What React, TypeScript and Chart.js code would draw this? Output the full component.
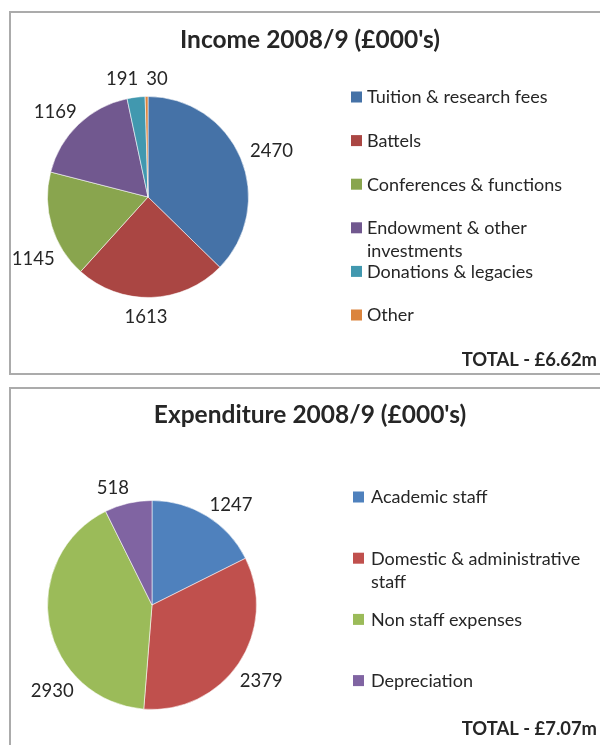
import React, { useEffect, useRef } from "react";
import { Chart, registerables } from "chart.js";

Chart.register(...registerables);

// ---------- data ----------
const incomeTitle = "Income 2008/9 (£000's)";
const incomeCategories = [
  "Tuition & research fees",
  "Battels",
  "Conferences & functions",
  "Endowment & other investments",
  "Donations & legacies",
  "Other",
];
const incomeValues = [2470, 1613, 1145, 1169, 191, 30];
const incomeColors = ["#4572A7", "#AA4643", "#89A54E", "#71588F", "#4198AF", "#DB843D"];
const incomeTotal = "TOTAL - £6.62m";

const expenditureTitle = "Expenditure 2008/9 (£000's)";
const expenditureCategories = [
  "Academic staff",
  "Domestic & administrative staff",
  "Non staff expenses",
  "Depreciation",
];
const expenditureValues = [1247, 2379, 2930, 518];
const expenditureColors = ["#4F81BD", "#C0504D", "#9BBB59", "#8064A2"];
const expenditureTotal = "TOTAL - £7.07m";

// where along each slice (0..1) its value label is anchored (Excel "best fit" look)
const incomeLabelAnchor = [0.5, 0.53, 0.27, 0.5, 0.5, 0.5];
const expenditureLabelAnchor = [0.55, 0.53, 0.28, 0.35];

const FONT = "Lato, 'Open Sans', sans-serif";
const TEXT = "#262626";

const decorPlugin = {
  id: "excelDecor",
  afterDraw(chart: any, _args: any, opts: any) {
    const ctx = chart.ctx as CanvasRenderingContext2D;
    ctx.save();
    ctx.fillStyle = TEXT;

    // title
    ctx.font = `bold ${opts.titleSize}px ${FONT}`;
    ctx.textAlign = "center";
    ctx.textBaseline = "alphabetic";
    ctx.fillText(opts.title, opts.titleX, opts.titleBaseline);

    // total
    ctx.font = `bold ${opts.totalSize}px ${FONT}`;
    ctx.textAlign = "right";
    ctx.fillText(opts.total, opts.totalRight, opts.totalBaseline);

    // legend
    const labels: string[] = chart.data.labels;
    const colors: string[] = chart.data.datasets[0].backgroundColor;
    ctx.font = `${opts.legendSize}px ${FONT}`;
    ctx.textAlign = "left";
    const capH = opts.legendSize * 0.72;
    labels.forEach((lab, i) => {
      const cy = opts.legendY0 + i * opts.legendStep;
      ctx.fillStyle = colors[i];
      ctx.fillRect(opts.legendX, cy - opts.box / 2, opts.box, opts.box);
      ctx.fillStyle = TEXT;
      const words = lab.split(" ");
      const lines: string[] = [];
      let cur = "";
      words.forEach((w) => {
        const t = cur ? cur + " " + w : w;
        if (ctx.measureText(t).width > opts.legendMaxWidth && cur) {
          lines.push(cur);
          cur = w;
        } else cur = t;
      });
      if (cur) lines.push(cur);
      lines.forEach((ln, k) => {
        ctx.fillText(ln, opts.legendX + opts.box + opts.legendTextGap, cy + capH / 2 + k * opts.lineStep);
      });
    });

    // data labels
    const meta = chart.getDatasetMeta(0);
    const values: number[] = chart.data.datasets[0].data;
    ctx.font = `${opts.labelSize}px ${FONT}`;
    ctx.textAlign = "center";
    const h = opts.labelSize * 0.72;
    const boxes = meta.data.map((arc: any, i: number) => {
      const p = arc.getProps(["x", "y", "startAngle", "endAngle", "outerRadius"], true);
      const a = p.startAngle + (p.endAngle - p.startAngle) * opts.anchors[i];
      const dx = Math.cos(a);
      const dy = Math.sin(a);
      const text = String(values[i]);
      const w = ctx.measureText(text).width;
      return {
        text,
        w,
        cx: p.x + (p.outerRadius + opts.labelGap) * dx + (dx * w) / 2,
        cy: p.y + (p.outerRadius + opts.labelGap) * dy + (dy * h) / 2,
      };
    });
    for (let it = 0; it < 20; it++) {
      for (let i = 0; i < boxes.length; i++) {
        for (let j = i + 1; j < boxes.length; j++) {
          const A = boxes[i];
          const B = boxes[j];
          if (Math.abs(A.cy - B.cy) > h + 4) continue;
          const need = (A.w + B.w) / 2 + 8;
          const d = B.cx - A.cx;
          if (Math.abs(d) < need) {
            const push = (need - Math.abs(d)) / 2;
            const s = d >= 0 ? 1 : -1;
            A.cx -= s * push;
            B.cx += s * push;
          }
        }
      }
    }
    ctx.fillStyle = TEXT;
    boxes.forEach((b: any) => ctx.fillText(b.text, b.cx, b.cy + h / 2));
    ctx.restore();
  },
};

function makePie(canvas: HTMLCanvasElement, labels: string[], values: number[], colors: string[], padding: any, decor: any) {
  return new Chart(canvas, {
    type: "pie",
    data: {
      labels,
      datasets: [
        {
          data: values,
          backgroundColor: colors,
          borderColor: "rgba(255,255,255,0.55)",
          borderWidth: 1,
        },
      ],
    },
    options: {
      responsive: false,
      animation: false,
      devicePixelRatio: 1,
      layout: { padding },
      plugins: {
        legend: { display: false },
        tooltip: { enabled: false },
        title: { display: false },
        excelDecor: decor,
      } as any,
    },
    plugins: [decorPlugin],
  });
}

export default function App() {
  const ref1 = useRef<HTMLCanvasElement>(null);
  const ref2 = useRef<HTMLCanvasElement>(null);

  useEffect(() => {
    const c1 = makePie(
      ref1.current!,
      incomeCategories,
      incomeValues,
      incomeColors,
      { left: 47, top: 96, right: 351, bottom: 82 },
      {
        title: incomeTitle,
        titleSize: 24.5,
        titleX: 310,
        titleBaseline: 48,
        total: incomeTotal,
        totalSize: 18.4,
        totalRight: 597,
        totalBaseline: 366,
        legendSize: 18,
        legendX: 351,
        legendY0: 97,
        legendStep: 43.6,
        legendMaxWidth: 222,
        legendTextGap: 5,
        lineStep: 23,
        box: 11,
        labelSize: 18.5,
        labelGap: 12,
        anchors: incomeLabelAnchor,
      }
    );
    const c2 = makePie(
      ref2.current!,
      expenditureCategories,
      expenditureValues,
      expenditureColors,
      { left: 47, top: 115, right: 343, bottom: 35 },
      {
        title: expenditureTitle,
        titleSize: 24.5,
        titleX: 310,
        titleBaseline: 38,
        total: expenditureTotal,
        totalSize: 18.4,
        totalRight: 597,
        totalBaseline: 350,
        legendSize: 18,
        legendX: 353,
        legendY0: 112,
        legendStep: 61.2,
        legendMaxWidth: 222,
        legendTextGap: 7,
        lineStep: 23,
        box: 11,
        labelSize: 18.5,
        labelGap: 12,
        anchors: expenditureLabelAnchor,
      }
    );
    return () => {
      c1.destroy();
      c2.destroy();
    };
  }, []);

  const border = "2px solid #ababab";
  return (
    <div style={{ position: "absolute", left: 0, top: 0, width: 600, height: 745, overflow: "hidden", background: "#fff" }}>
      <div style={{ position: "absolute", left: 9, top: 11, width: 700, height: 364, border, boxSizing: "border-box" }} />
      <div style={{ position: "absolute", left: 9, top: 387, width: 700, height: 420, border, boxSizing: "border-box" }} />
      <canvas ref={ref1} width={600} height={380} style={{ position: "absolute", left: 0, top: 0 }} />
      <canvas ref={ref2} width={600} height={360} style={{ position: "absolute", left: 0, top: 385 }} />
    </div>
  );
}
